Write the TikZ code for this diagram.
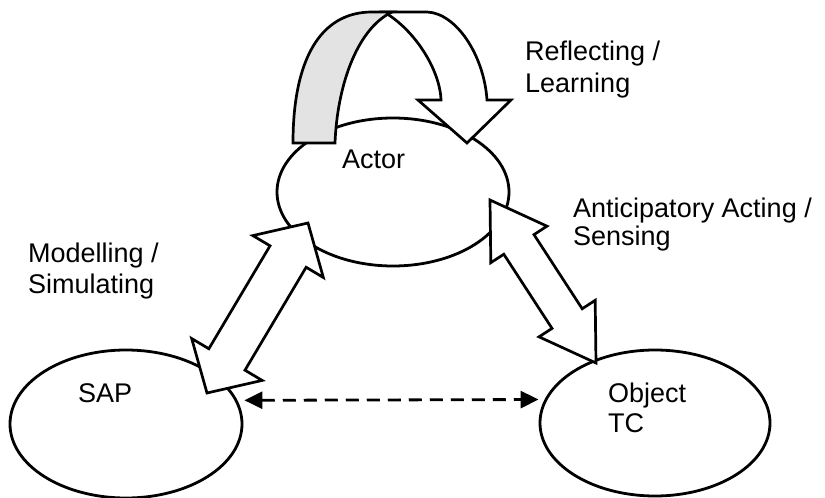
\documentclass[tikz,border=0pt]{standalone}
\usepackage{fontspec}
\setmainfont{Liberation Sans}
\usetikzlibrary{shapes.geometric,arrows.meta,calc}
\newcommand{\blockarr}[5]{%
  \coordinate (#1-h) at ($(#1)!#3!(#2)$);
  \coordinate (#2-h) at ($(#2)!#3!(#1)$);
  \filldraw[blockarrow] (#1)
   -- ($(#1-h)!#4!90:(#2)$) -- ($(#1-h)!#5!90:(#2)$)
   -- ($(#2-h)!#5!-90:(#1)$) -- ($(#2-h)!#4!-90:(#1)$)
   -- (#2)
   -- ($(#2-h)!#4!90:(#1)$) -- ($(#2-h)!#5!90:(#1)$)
   -- ($(#1-h)!#5!-90:(#2)$) -- ($(#1-h)!#4!-90:(#2)$)
   -- cycle;}
\tikzset{
  oval/.style={ellipse, draw, line width=2.8pt, inner sep=0pt, fill=white},
  blockarrow/.style={draw, fill=white, line width=2.7pt, line join=miter},
  ribbon/.style={draw, fill=white, line width=2.7pt, line join=miter},
  ribbonback/.style={draw, fill=gray!22, line width=2.7pt, line join=miter},
  dasharrow/.style={line width=2.8pt, dash pattern=on 13pt off 8pt,
    {Triangle[length=18pt,width=17pt]}-{Triangle[length=18pt,width=17pt]}},
  lbl/.style={anchor=base west, inner sep=0pt, font=\fontsize{27}{31}\selectfont}
}
\begin{document}
\begin{tikzpicture}[x=1pt,y=-1pt]
\useasboundingbox[fill=white] (0,0) rectangle (825,498);

% ellipses
\node[oval, minimum width=232pt, minimum height=148pt] (actor) at (393,192) {};
\node[oval, minimum width=232pt, minimum height=148pt] (sap) at (126,424) {};
\node[oval, minimum width=230pt, minimum height=146pt] (tc) at (655,423) {};

% Modelling / Simulating double arrow (Actor <-> SAP)
\coordinate (ms1) at (308,223);
\coordinate (ms2) at (207,393);
\blockarr{ms1}{ms2}{39pt}{41pt}{21pt}

% Anticipatory Acting / Sensing double arrow (Actor <-> Object TC)
\coordinate (as1) at (490,200);
\coordinate (as2) at (596,363);
\blockarr{as1}{as2}{53pt}{33.5pt}{18pt}

% Reflecting / Learning ribbon arrow
\path[ribbon] (384,12) -- (427,12) .. controls (456,13) and (484,55) .. (487,100)
  -- (511,100) -- (467,143) -- (418,100) -- (441,100)
  .. controls (440,70) and (415,30) .. (384,12) -- cycle;
\path[ribbonback] (293,143) .. controls (293,60) and (320,12) .. (372,12)
  -- (392,12) .. controls (355,30) and (337,90) .. (335,143) -- cycle;

% dashed double arrow SAP <-> Object TC
\draw[dasharrow] ([xshift=7pt]sap.12) -- ([xshift=-6pt]tc.168);

% labels
\node[lbl] (tactor) at (342,168) {Actor};
\node[lbl] (tsap) at (78,402) {SAP};
\node[lbl] (tobj1) at (608,402) {Object};
\node[lbl] (tobj2) at (608,432) {TC};
\node[lbl] (trefl1) at (525,60) {Reflecting /};
\node[lbl] (trefl2) at (525,92) {Learning};
\node[lbl] (tant1) at (573,217) {Anticipatory Acting /};
\node[lbl] (tant2) at (573,245) {Sensing};
\node[lbl] (tmod1) at (28,262) {Modelling /};
\node[lbl] (tmod2) at (28,293) {Simulating};
\end{tikzpicture}
\end{document}
